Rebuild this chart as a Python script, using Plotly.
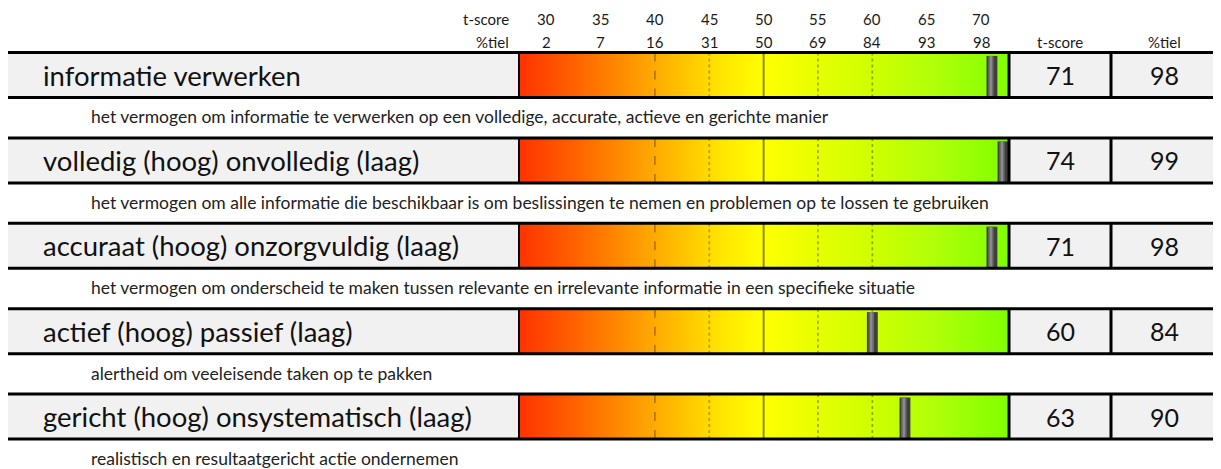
import numpy as np
import plotly.graph_objects as go

# ---------------- data ----------------
labels = [
    "informatie verwerken",
    "volledig (hoog) onvolledig (laag)",
    "accuraat (hoog) onzorgvuldig (laag)",
    "actief (hoog) passief (laag)",
    "gericht (hoog) onsystematisch (laag)",
]
descriptions = [
    "het vermogen om informatie te verwerken op een volledige, accurate, actieve en gerichte manier",
    "het vermogen om alle informatie die beschikbaar is om beslissingen te nemen en problemen op te lossen te gebruiken",
    "het vermogen om onderscheid te maken tussen relevante en irrelevante informatie in een specifieke situatie",
    "alertheid om veeleisende taken op te pakken",
    "realistisch en resultaatgericht actie ondernemen",
]
t_scores = [71, 74, 71, 60, 63]
percentiles = [98, 99, 98, 84, 90]

tick_tscores = [30, 35, 40, 45, 50, 55, 60, 65, 70]
tick_percentiles = [2, 7, 16, 31, 50, 69, 84, 93, 98]
ref_lines = [40, 45, 50, 55, 60]

# ---------------- layout geometry ----------------
OFF = 8                              # page body margin
W, H = 1221 - OFF, 469 - OFF         # figure size so the page fits the window
X_MIN, X_MAX = 27.5, 72.57           # t-score range of the gradient bar
ROW0, ROW_STEP = 75.0, 85.4          # page pixel centre of first row, row spacing
HALF = 22.5 / ROW_STEP               # half row height in row units
FONT = "Lato"


def px(x):
    return (x - OFF) / W


def yrow(py):
    return (py - ROW0) / ROW_STEP


fig = go.Figure()

# gradient bars
colorscale = [
    [0.00, "#ff3300"],
    [0.12, "#ff6400"],
    [0.235, "#ff9800"],
    [0.325, "#ffbf00"],
    [0.41, "#ffe400"],
    [0.50, "#ffff00"],
    [0.61, "#e6ff00"],
    [0.72, "#d0ff00"],
    [0.85, "#b0ff08"],
    [1.00, "#80ff00"],
]
xe = np.linspace(X_MIN, X_MAX, 301)
xm = (xe[:-1] + xe[1:]) / 2
for i in range(len(labels)):
    fig.add_trace(go.Heatmap(
        x=xe, y=[i - HALF, i + HALF], z=[xm],
        colorscale=colorscale, zmin=X_MIN, zmax=X_MAX,
        showscale=False, hoverinfo="skip",
    ))

fig.update_layout(
    width=W, height=H,
    margin=dict(l=0, r=0, t=0, b=0),
    paper_bgcolor="white", plot_bgcolor="rgba(0,0,0,0)",
    showlegend=False,
    xaxis=dict(domain=[px(519), px(1009)], range=[X_MIN, X_MAX],
               visible=False, fixedrange=True),
    yaxis=dict(domain=[0, 1], range=[yrow(469), yrow(OFF)],
               visible=False, fixedrange=True),
    font=dict(family=FONT, color="#1a1a1a"),
)

shapes = []
annotations = []

ref_style = {
    40: dict(color="#a8701a", dash="dash", width=1.5),
    45: dict(color="#c0a000", dash="dot", width=1.8),
    50: dict(color="#8a8a10", dash="solid", width=2),
    55: dict(color="#a8b400", dash="dot", width=1.8),
    60: dict(color="#8cb000", dash="dot", width=1.8),
}

for i, (lab, desc, ts, pc) in enumerate(zip(labels, descriptions, t_scores, percentiles)):
    y0, y1 = i - HALF, i + HALF
    # grey boxes
    for xa, xb in [(8, 519), (1009, 1111), (1111, 1218)]:
        shapes.append(dict(type="rect", xref="paper", yref="y",
                           x0=px(xa), x1=px(xb), y0=y0, y1=y1,
                           fillcolor="#f1f1f1", line=dict(width=0), layer="below"))
    # reference lines inside the bar
    for rv in ref_lines:
        shapes.append(dict(type="line", xref="x", yref="y", x0=rv, x1=rv,
                           y0=y0, y1=y1, line=ref_style[rv]))
    # marker (grey cylinder), clamped into the bar
    c = min(ts, X_MAX - 0.55)
    shapes.append(dict(type="rect", xref="x", yref="y", x0=c - 0.5, x1=c + 0.5,
                       y0=y0 + 0.04, y1=y1, fillcolor="#3e3e3e", line=dict(width=0)))
    shapes.append(dict(type="rect", xref="x", yref="y", x0=c - 0.35, x1=c + 0.15,
                       y0=y0 + 0.04, y1=y1, fillcolor="#6a6a6a", line=dict(width=0)))
    shapes.append(dict(type="rect", xref="x", yref="y", x0=c - 0.2, x1=c,
                       y0=y0 + 0.04, y1=y1, fillcolor="#8c8c8c", line=dict(width=0)))
    # horizontal frame lines
    for yy in (y0, y1):
        shapes.append(dict(type="line", xref="paper", yref="y", x0=px(8), x1=px(1218),
                           y0=yy, y1=yy, line=dict(color="black", width=3)))
    # vertical separators
    for xv, wv in [(519, 2), (1009, 3), (1111, 3), (1218, 3)]:
        shapes.append(dict(type="line", xref="paper", yref="y", x0=px(xv), x1=px(xv),
                           y0=y0, y1=y1, line=dict(color="black", width=wv)))
    # texts
    annotations.append(dict(xref="paper", yref="y", x=px(41), y=i, text=lab,
                            xanchor="left", yanchor="middle", showarrow=False,
                            font=dict(size=27.5, color="#111111")))
    annotations.append(dict(xref="paper", yref="y", x=px(89), y=i + 0.49, text=desc,
                            xanchor="left", yanchor="middle", showarrow=False,
                            font=dict(size=17.5, color="#222222")))
    annotations.append(dict(xref="paper", yref="y", x=px(1060), y=i, text=str(ts),
                            xanchor="center", yanchor="middle", showarrow=False,
                            font=dict(size=25, color="#111111")))
    annotations.append(dict(xref="paper", yref="y", x=px(1164.5), y=i, text=str(pc),
                            xanchor="center", yanchor="middle", showarrow=False,
                            font=dict(size=25, color="#111111")))

# header
HS = 15
annotations.append(dict(xref="paper", yref="y", x=px(511), y=yrow(19), text="t-score",
                        xanchor="right", yanchor="middle", showarrow=False,
                        font=dict(size=HS)))
annotations.append(dict(xref="paper", yref="y", x=px(511), y=yrow(41.5), text="%tiel",
                        xanchor="right", yanchor="middle", showarrow=False,
                        font=dict(size=HS)))
annotations.append(dict(xref="paper", yref="y", x=px(1060), y=yrow(41.5), text="t-score",
                        xanchor="center", yanchor="middle", showarrow=False,
                        font=dict(size=HS)))
annotations.append(dict(xref="paper", yref="y", x=px(1164.5), y=yrow(41.5), text="%tiel",
                        xanchor="center", yanchor="middle", showarrow=False,
                        font=dict(size=HS)))
for tv, pv in zip(tick_tscores, tick_percentiles):
    annotations.append(dict(xref="x", yref="y", x=tv, y=yrow(19), text=str(tv),
                            xanchor="center", yanchor="middle", showarrow=False,
                            font=dict(size=HS)))
    annotations.append(dict(xref="x", yref="y", x=tv, y=yrow(41.5), text=str(pv),
                            xanchor="center", yanchor="middle", showarrow=False,
                            font=dict(size=HS)))

fig.update_layout(shapes=shapes, annotations=annotations)
fig.write_html("out.html")
